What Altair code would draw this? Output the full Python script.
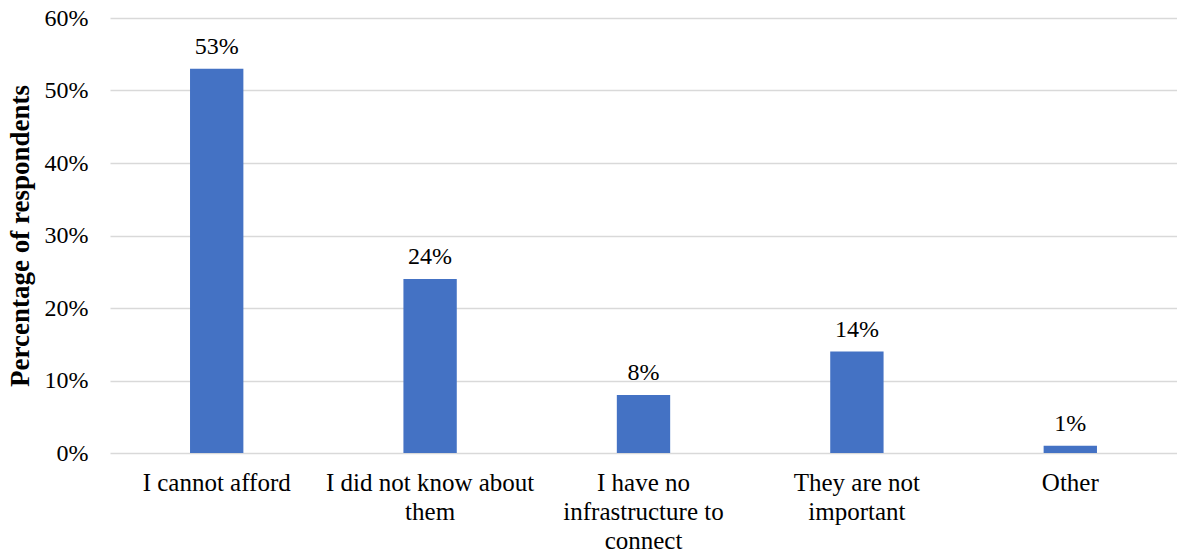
import altair as alt
import pandas as pd

categories = [
    "I cannot afford",
    "I did not know about|them",
    "I have no|infrastructure to|connect",
    "They are not|important",
    "Other",
]
values = [53, 24, 8, 14, 1]
value_labels = ["53%", "24%", "8%", "14%", "1%"]

df = pd.DataFrame({"cat": categories, "val": values, "lab": value_labels})

font = "'Liberation Serif', 'Times New Roman', serif"

x = alt.X(
    "cat:N",
    sort=categories,
    title=None,
    scale=alt.Scale(paddingInner=0.75, paddingOuter=0.375),
    axis=alt.Axis(
        labelExpr="split(datum.label, '|')",
        labelAngle=0,
        labelFont=font,
        labelFontSize=25,
        labelColor="#000000",
        labelLineHeight=29,
        labelPadding=17,
        labelLimit=300,
        domain=False,
        ticks=False,
    ),
)

y = alt.Y(
    "val:Q",
    title="Percentage of respondents",
    scale=alt.Scale(domain=[0, 60], nice=False),
    axis=alt.Axis(
        values=[0, 10, 20, 30, 40, 50, 60],
        labelExpr="datum.value + '%'",
        labelFont=font,
        labelFontSize=24,
        labelColor="#000000",
        labelPadding=22,
        titleFont=font,
        titleFontSize=27,
        titleFontWeight="bold",
        titleColor="#000000",
        titlePadding=10,
        domain=False,
        ticks=False,
        grid=True,
        gridColor="#d9d9d9",
        gridWidth=1.5,
    ),
)

bars = alt.Chart(df).mark_bar(color="#4472C4").encode(x=x, y=y)

text = alt.Chart(df).mark_text(
    font=font, fontSize=24, color="#000000", baseline="bottom", dy=-10
).encode(x=alt.X("cat:N", sort=categories), y="val:Q", text="lab:N")

chart = (
    alt.layer(bars, text)
    .properties(
        width=1067,
        height=435,
        autosize=alt.AutoSizeParams(type="none"),
        padding={"left": 110, "top": 18, "right": 0, "bottom": 99},
        background="#ffffff",
    )
    .configure_view(stroke=None)
)

chart.save("out.html", embed_options={"renderer": "svg", "actions": False})
